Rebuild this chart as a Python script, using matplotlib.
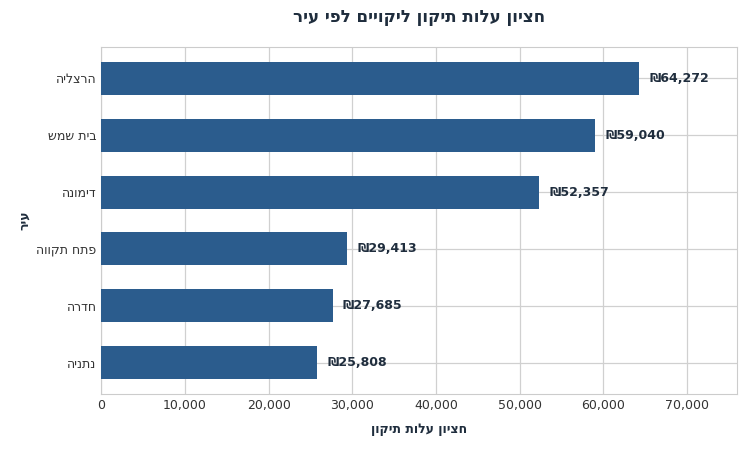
"""Median repair cost per city, horizontal bar chart."""

import matplotlib
matplotlib.use("Agg")
import matplotlib.pyplot as plt
from matplotlib.ticker import FuncFormatter

CITIES = ["הרצליה", "בית שמש", "דימונה", "פתח תקווה", "חדרה", "נתניה"]
MEDIANS = [64272, 59040, 52357, 29413, 27685, 25808]
TITLE = "חציון עלות תיקון ליקויים לפי עיר"
X_LABEL = "חציון עלות תיקון"
Y_LABEL = "עיר"

BAR_COLOR = "#2b5c8d"
TEXT_COLOR = "#1f2d3d"


def rtl(text: str) -> str:
    """matplotlib has no bidi support: reverse Hebrew for display."""
    return text[::-1]


plt.rcParams["font.family"] = ["DejaVu Sans"]

fig, ax = plt.subplots(figsize=(7.5, 4.5), dpi=100)
y_pos = list(range(len(CITIES)))[::-1]
ax.barh(y_pos, MEDIANS, height=0.58, color=BAR_COLOR, zorder=3)

for y, value in zip(y_pos, MEDIANS):
    ax.text(value + 1200, y, f"₪{value:,}", va="center", ha="left",
            fontsize=9, fontweight="bold", color=TEXT_COLOR, zorder=4)

ax.set_yticks(y_pos)
ax.set_yticklabels([rtl(c) for c in CITIES], fontsize=9, color="#333333")
ax.set_ylim(-0.55, len(CITIES) - 0.45)
ax.set_xlim(0, 76000)
ax.xaxis.set_major_formatter(FuncFormatter(lambda v, _: f"{int(v):,}"))
ax.tick_params(axis="x", labelsize=9, colors="#333333", length=0)
ax.tick_params(axis="y", length=0)

ax.grid(True, color="#d0d0d0", linewidth=0.9, zorder=0)
for spine in ax.spines.values():
    spine.set_color("#cccccc")

ax.set_xlabel(rtl(X_LABEL), fontsize=9, fontweight="bold", color=TEXT_COLOR, labelpad=8)
ax.set_ylabel(rtl(Y_LABEL), fontsize=9, fontweight="bold", color=TEXT_COLOR)
ax.set_title(rtl(TITLE), fontsize=12, fontweight="bold", color=TEXT_COLOR, pad=18)

fig.subplots_adjust(left=0.135, right=0.983, top=0.895, bottom=0.125)
fig.savefig("out.png")
